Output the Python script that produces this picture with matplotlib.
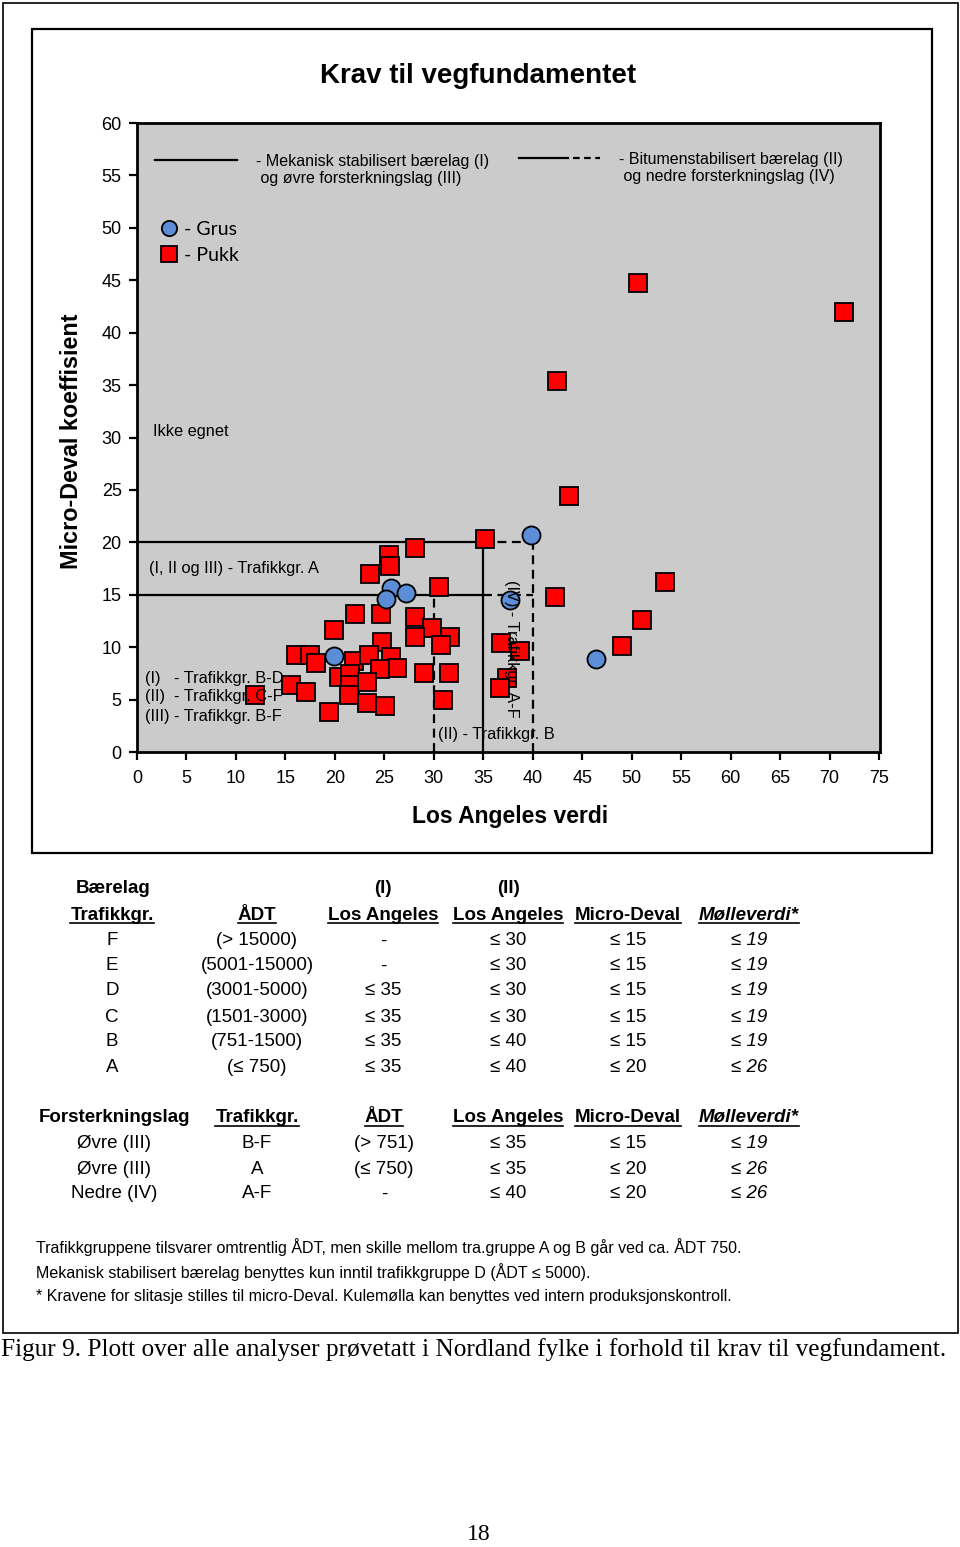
import matplotlib
matplotlib.use("Agg")
import matplotlib.pyplot as plt
from matplotlib.lines import Line2D
from matplotlib.patches import Rectangle

# --- data ---
grus_la = [25.7, 27.2, 25.2, 19.9, 37.7, 39.8, 46.4]
grus_md = [15.6, 15.2, 14.6, 9.2, 14.5, 20.7, 8.9]

pukk_la = [50.6, 71.5, 42.5, 43.7, 35.2, 28.1, 25.5, 25.6, 23.6, 30.5,
           42.2, 53.4, 51.0, 49.0, 22.0, 24.7, 28.1, 29.8, 31.6, 30.7,
           28.1, 24.8, 19.9, 16.1, 17.5, 18.1, 21.9, 23.5, 25.7, 26.3,
           24.6, 20.4, 21.5, 21.5, 23.2, 21.4, 15.6, 17.1, 11.9, 23.2,
           25.1, 19.4, 29.0, 31.5, 30.9, 36.8, 38.7, 37.4, 36.7]
pukk_md = [44.7, 42.0, 35.4, 24.4, 20.3, 19.5, 18.8, 17.7, 17.0, 15.7,
           14.8, 16.2, 12.6, 10.1, 13.2, 13.2, 12.9, 11.8, 11.0, 10.2,
           11.0, 10.5, 11.6, 9.3, 9.3, 8.5, 8.7, 9.3, 9.1, 8.0,
           7.9, 7.2, 7.4, 6.4, 6.7, 5.4, 6.4, 5.7, 5.4, 4.7,
           4.4, 3.8, 7.5, 7.5, 5.0, 10.4, 9.6, 7.1, 6.1]

# requirement limits (LA, MD)
mek_la = 35            # (I) and (III)
mek_md = [15, 20]      # B-F / A
bit_la_cf = 30         # (II) C-F
bit_la_b = 40          # (II) B, (IV) A-F
bit_md = [15, 20]

x_ticks = list(range(0, 80, 5))
y_ticks = list(range(0, 65, 5))

# table 1: Baerelag
t1_head = ["Trafikkgr.", "ÅDT", "Los Angeles", "Los Angeles", "Micro-Deval", "Mølleverdi*"]
t1_group = ["F", "E", "D", "C", "B", "A"]
t1_adt = ["(> 15000)", "(5001-15000)", "(3001-5000)", "(1501-3000)", "(751-1500)", "(≤ 750)"]
t1_la1 = ["-", "-", "≤ 35", "≤ 35", "≤ 35", "≤ 35"]
t1_la2 = ["≤ 30", "≤ 30", "≤ 30", "≤ 30", "≤ 40", "≤ 40"]
t1_md = ["≤ 15", "≤ 15", "≤ 15", "≤ 15", "≤ 15", "≤ 20"]
t1_mv = ["≤ 19", "≤ 19", "≤ 19", "≤ 19", "≤ 19", "≤ 26"]

# table 2: Forsterkningslag
t2_head = ["Forsterkningslag", "Trafikkgr.", "ÅDT", "Los Angeles", "Micro-Deval", "Mølleverdi*"]
t2_layer = ["Øvre (III)", "Øvre (III)", "Nedre (IV)"]
t2_group = ["B-F", "A", "A-F"]
t2_adt = ["(> 751)", "(≤ 750)", "-"]
t2_la = ["≤ 35", "≤ 35", "≤ 40"]
t2_md = ["≤ 15", "≤ 20", "≤ 20"]
t2_mv = ["≤ 19", "≤ 26", "≤ 26"]

notes = [
    "Trafikkgruppene tilsvarer omtrentlig ÅDT, men skille mellom tra.gruppe A og B går ved ca. ÅDT 750.",
    "Mekanisk stabilisert bærelag benyttes kun inntil trafikkgruppe D (ÅDT ≤ 5000).",
    "* Kravene for slitasje stilles til micro-Deval. Kulemølla kan benyttes ved intern produksjonskontroll.",
]

W, H = 960, 1547
plt.rcParams['font.family'] = ['Liberation Sans', 'DejaVu Sans']
fig = plt.figure(figsize=(W / 100, H / 100), dpi=100)


def fx(px):
    return px / W


def fy(py):
    return 1 - py / H


# page frame and chart frame
fig.add_artist(Rectangle((fx(3), fy(1333)), fx(955), (1330) / H, transform=fig.transFigure,
                         fill=False, lw=1.2, ec='black'))
fig.add_artist(Rectangle((fx(32), fy(853)), fx(900), (824) / H, transform=fig.transFigure,
                         fill=False, lw=1.6, ec='black'))

ax = fig.add_axes([fx(137), fy(752), fx(880 - 137), (752 - 123) / H])
ax.set_facecolor('#cbcbcb')
ax.set_xlim(0, 75.1)
ax.set_ylim(0, 60)
ax.set_xticks(x_ticks)
ax.set_yticks(y_ticks)
for s in ax.spines.values():
    s.set_linewidth(2.0)
ax.tick_params(direction='out', length=6, width=1.6, labelsize=13)
ax.tick_params(axis='x', pad=7)
ax.tick_params(axis='y', pad=5)

# requirement lines
lw = 1.6
for md in mek_md:
    ax.plot([0, mek_la], [md, md], color='black', lw=lw, zorder=2)
    ax.plot([mek_la, bit_la_b], [md, md], color='black', lw=lw, ls=(0, (4, 2.5)), zorder=2)
ax.plot([mek_la, mek_la], [0, mek_md[1]], color='black', lw=lw, zorder=2)
ax.plot([bit_la_cf, bit_la_cf], [0, bit_md[0]], color='black', lw=lw, ls=(0, (4, 2.5)), zorder=2)
ax.plot([bit_la_b, bit_la_b], [0, bit_md[1]], color='black', lw=lw, ls=(0, (4, 2.5)), zorder=2)

# points
pukk_h, = ax.plot(pukk_la, pukk_md, ls='none', marker='s', ms=12.5, mfc='#ff0000',
                  mec='black', mew=1.3, zorder=3)
grus_h, = ax.plot(grus_la, grus_md, ls='none', marker='o', ms=13, mfc='#5b8ed6',
                  mec='black', mew=1.3, zorder=4)

# annotations inside plot
fs_in = 11.8
ax.text(1.6, 30.6, "Ikke egnet", fontsize=fs_in, va='center', zorder=5)
ax.text(1.2, 17.5, "(I, II og III) - Trafikkgr. A", fontsize=fs_in, va='center', zorder=5)
ax.text(0.8, 7.0, "(I)   - Trafikkgr. B-D", fontsize=fs_in, va='center', zorder=5)
ax.text(0.8, 5.25, "(II)  - Trafikkgr. C-F", fontsize=fs_in, va='center', zorder=5)
ax.text(0.8, 3.4, "(III) - Trafikkgr. B-F", fontsize=fs_in, va='center', zorder=5)
ax.text(30.4, 1.7, "(II) - Trafikkgr. B", fontsize=fs_in, va='center', zorder=5)
ax.text(37.9, 9.8, "(IV) - Trafikkgr. A-F", fontsize=fs_in, va='center', ha='center',
        rotation=-90, zorder=5)

# line legend (manual)
t = ax.transAxes
ax.add_line(Line2D([0.024, 0.135], [0.941, 0.941], color='black', lw=1.6, transform=t))
ax.text(0.160, 0.925, "- Mekanisk stabilisert bærelag (I)\n og øvre forsterkningslag (III)",
        transform=t, fontsize=11.5, va='center', linespacing=1.2)
ax.add_line(Line2D([0.514, 0.580], [0.944, 0.944], color='black', lw=1.6, transform=t))
ax.add_line(Line2D([0.587, 0.623], [0.944, 0.944], color='black', lw=1.6,
                   ls=(0, (3, 2)), transform=t))
ax.text(0.649, 0.928, "- Bitumenstabilisert bærelag (II)\n og nedre forsterkningslag (IV)",
        transform=t, fontsize=11.5, va='center', linespacing=1.2)

leg = ax.legend([grus_h, pukk_h], ["- Grus", "- Pukk"], loc='upper left',
                bbox_to_anchor=(0.006, 0.872), frameon=False, handlelength=1.0,
                handletextpad=0.3, labelspacing=0.45, prop={'family': 'Lato', 'size': 14})
for hnd in leg.legend_handles:
    hnd.set_markersize(11)

# titles
fig.text(fx(478), fy(76), "Krav til vegfundamentet", fontsize=20, fontweight='bold',
         ha='center', va='center')
fig.text(fx(72), fy(441), "Micro-Deval koeffisient", fontsize=16.8, fontweight='bold',
         ha='center', va='center', rotation=90)
fig.text(fx(510), fy(817), "Los Angeles verdi", fontsize=16.5, fontweight='bold',
         ha='center', va='center')

# tables
fs_t = 13.5
underlined = []


def cell(px, py, s, bold=False, italic=False, ul=False, ha='center'):
    tx = fig.text(fx(px), fy(py), s, fontsize=fs_t, ha=ha, va='center',
                  fontweight='bold' if bold else 'normal',
                  fontstyle='italic' if italic else 'normal')
    if ul:
        underlined.append(tx)
    return tx


cols = [112, 257, 383, 508, 628, 749]
cell(113, 889, "Bærelag", bold=True)
cell(383, 889, "(I)", bold=True)
cell(508, 889, "(II)", bold=True)
for i, h in enumerate(t1_head):
    cell(cols[i], 915, h, bold=True, ul=True, italic=(i == 5))
rows1 = [941, 966, 991, 1017, 1042, 1068]
for j, py in enumerate(rows1):
    cell(cols[0], py, t1_group[j])
    cell(cols[1], py, t1_adt[j])
    cell(cols[2], py, t1_la1[j])
    cell(cols[3], py, t1_la2[j])
    cell(cols[4], py, t1_md[j])
    cell(cols[5], py, t1_mv[j], italic=True)

cols2 = [114, 257, 384, 508, 628, 749]
for i, h in enumerate(t2_head):
    cell(cols2[i], 1118, h, bold=True, ul=(i > 0), italic=(i == 5))
rows2 = [1144, 1169, 1194]
for j, py in enumerate(rows2):
    cell(cols2[0], py, t2_layer[j])
    cell(cols2[1], py, t2_group[j])
    cell(cols2[2], py, t2_adt[j])
    cell(cols2[3], py, t2_la[j])
    cell(cols2[4], py, t2_md[j])
    cell(cols2[5], py, t2_mv[j], italic=True)

for k, n in enumerate(notes):
    fig.text(fx(36), fy(1247 + 25 * k), n, fontsize=11.5, ha='left', va='center')

fig.text(fx(1), fy(1350),
         "Figur 9. Plott over alle analyser prøvetatt i Nordland fylke i forhold til krav til vegfundament.",
         fontsize=18.2, family='Liberation Serif', ha='left', va='center')
fig.text(fx(479), fy(1535), "18", fontsize=17, family='Liberation Serif', ha='center', va='center')

# underline headers
fig.canvas.draw()
r = fig.canvas.get_renderer()
for tx in underlined:
    bb = tx.get_window_extent(r)
    yb = bb.y0 + 1
    fig.add_artist(Line2D([bb.x0 / W, bb.x1 / W], [yb / H, yb / H], color='black', lw=1.2,
                          transform=fig.transFigure))

fig.savefig("out.png", dpi=100)
